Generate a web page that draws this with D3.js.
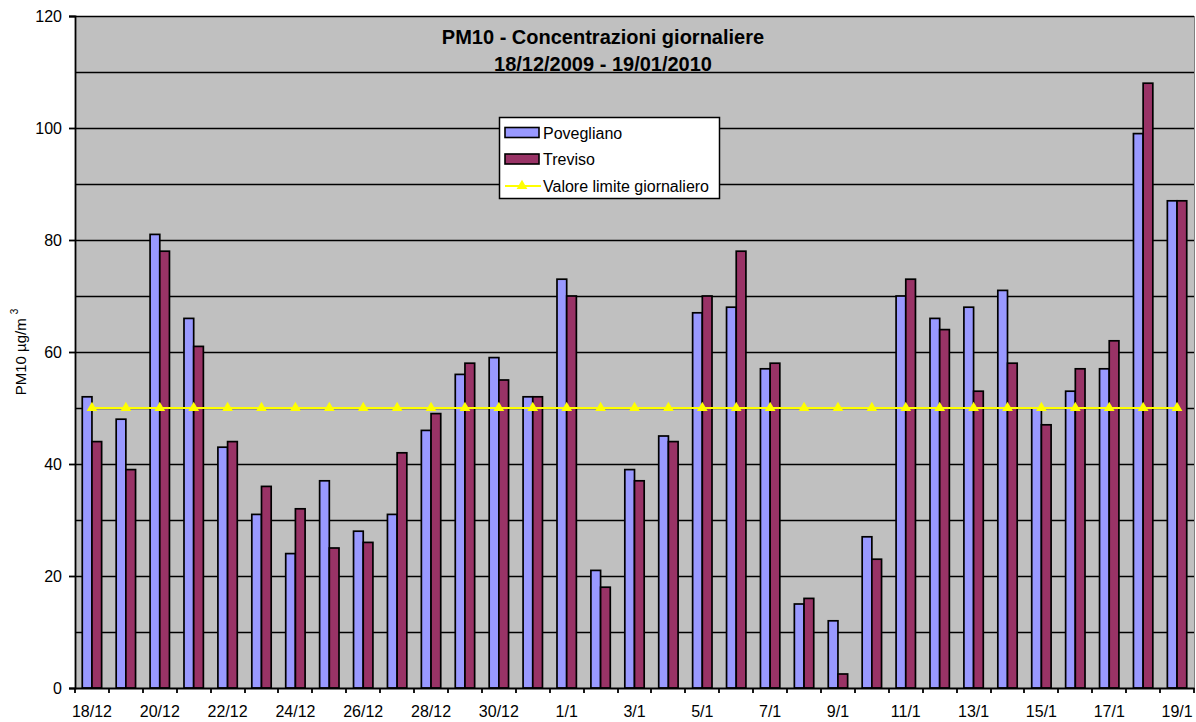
<!DOCTYPE html>
<html><head><meta charset="utf-8">
<script src="https://cdn.jsdelivr.net/npm/d3@7"></script>
<style>
html,body{margin:0;padding:0;background:#fff;}
svg{display:block;font-family:"Liberation Sans",Arial,sans-serif;}
</style></head>
<body><svg id="c" width="1196" height="722"></svg>
<script>
const categories = ["18/12","19/12","20/12","21/12","22/12","23/12","24/12","25/12","26/12","27/12","28/12","29/12","30/12","31/12","1/1","2/1","3/1","4/1","5/1","6/1","7/1","8/1","9/1","10/1","11/1","12/1","13/1","14/1","15/1","16/1","17/1","18/1","19/1"];
const povegliano = [52,48,81,66,43,31,24,37,28,31,46,56,59,52,73,21,39,45,67,68,57,15,12,27,70,66,68,71,50,53,57,99,87];
const treviso    = [44,39,78,61,44,36,32,25,26,42,49,58,55,52,70,18,37,44,70,78,58,16,2.5,23,73,64,53,58,47,57,62,108,87];
const limite     = categories.map(() => 50);
const seriesNames = ["Povegliano","Treviso","Valore limite giornaliero"];
const yTicks = [0,20,40,60,80,100,120];
const yGrid = [10,20,30,40,50,60,70,80,90,100,110,120];
const title1 = "PM10 - Concentrazioni giornaliere";
const title2 = "18/12/2009 - 19/01/2010";

const FONT = "Liberation Sans, Arial, sans-serif";
const svg = d3.select("#c");
const L = 75, R = 1194, T = 16, B = 688;
const x0 = d3.scaleBand().domain(categories).range([L, R]).padding(0);
const x1 = d3.scaleBand().domain(["P","T"]).range([0, x0.bandwidth()]).paddingInner(0).paddingOuter(0.75);
const y = d3.scaleLinear().domain([0,120]).range([B, T]);

// plot background
svg.append("rect").attr("x", L).attr("y", T).attr("width", R - L).attr("height", B - T).attr("fill", "#C0C0C0");
svg.append("line").attr("x1", L).attr("x2", R).attr("y1", T + 0.5).attr("y2", T + 0.5).attr("stroke", "#808080");
svg.append("line").attr("x1", R + 0.5).attr("x2", R + 0.5).attr("y1", T).attr("y2", B).attr("stroke", "#808080");

// gridlines
svg.append("g").selectAll("line").data(yGrid).join("line")
  .attr("x1", L).attr("x2", R)
  .attr("y1", d => Math.round(y(d)) + 0.5).attr("y2", d => Math.round(y(d)) + 0.5)
  .attr("stroke", "#000").attr("stroke-width", 1.3);

// title
svg.append("text").attr("x", 603).attr("y", 44).attr("text-anchor", "middle")
  .attr("font-size", 20).attr("font-weight", "bold").attr("fill", "#000").text(title1);
svg.append("text").attr("x", 603).attr("y", 71).attr("text-anchor", "middle")
  .attr("font-size", 20).attr("font-weight", "bold").attr("fill", "#000").text(title2);

// bars
const colors = {P: "#9999FF", T: "#993366"};
const g = svg.append("g");
categories.forEach((c, i) => {
  [["P", povegliano[i]], ["T", treviso[i]]].forEach(([k, v]) => {
    g.append("rect")
      .attr("x", x0(c) + x1(k)).attr("y", y(v))
      .attr("width", x1.bandwidth()).attr("height", y(0) - y(v))
      .attr("fill", colors[k]).attr("stroke", "#000").attr("stroke-width", 1.7);
  });
});

// limit line
const lx = c => x0(c) + x0.bandwidth() / 2;
svg.append("path")
  .attr("d", d3.line().x((d, i) => lx(categories[i])).y(d => y(d))(limite))
  .attr("fill", "none").attr("stroke", "#FFFF00").attr("stroke-width", 2);
const tri = d3.symbol().type(d3.symbolTriangle).size(50);
svg.append("g").selectAll("path").data(limite).join("path")
  .attr("d", tri).attr("transform", (d, i) => `translate(${lx(categories[i])},${y(d)})`)
  .attr("fill", "#FFFF00");

// y axis
const yAxis = svg.append("g").attr("transform", `translate(${L},0)`)
  .call(d3.axisLeft(y).tickValues(yTicks).tickSize(6).tickPadding(7).tickFormat(d3.format("d")));
yAxis.select(".domain").attr("stroke", "#000").attr("stroke-width", 1.8);
yAxis.selectAll(".tick line").attr("stroke", "#000").attr("stroke-width", 1.8);
yAxis.selectAll("text").attr("font-size", 16).attr("fill", "#000").attr("font-family", FONT);

// x axis
const xAxis = svg.append("g").attr("transform", `translate(0,${B})`)
  .call(d3.axisBottom(x0).tickValues(categories.filter((d, i) => i % 2 === 0)).tickSize(0).tickPadding(18));
xAxis.select(".domain").attr("stroke", "#000").attr("stroke-width", 1.8);
xAxis.selectAll("text").attr("font-size", 16).attr("fill", "#000").attr("font-family", FONT);
const bounds = categories.map(c => x0(c)).concat([R]);
svg.append("g").selectAll("line").data(bounds).join("line")
  .attr("x1", d => Math.round(d)).attr("x2", d => Math.round(d))
  .attr("y1", B).attr("y2", B + 5).attr("stroke", "#000").attr("stroke-width", 1.8);

// y label
const yl = svg.append("text").attr("transform", "translate(26,352) rotate(-90)")
  .attr("text-anchor", "middle").attr("font-size", 15).attr("fill", "#000");
yl.append("tspan").text("PM10 µg/m ");
yl.append("tspan").attr("font-size", 10).attr("dy", -8).text("3");

// legend
const lg = svg.append("g");
lg.append("rect").attr("x", 499.5).attr("y", 117.5).attr("width", 220).attr("height", 81)
  .attr("fill", "#fff").attr("stroke", "#000").attr("stroke-width", 1.5);
const rows = [132.5, 159, 186];
["P", "T"].forEach((k, i) => {
  lg.append("rect").attr("x", 505).attr("y", rows[i] - 5).attr("width", 34).attr("height", 10)
    .attr("fill", colors[k]).attr("stroke", "#000").attr("stroke-width", 1.6);
});
lg.append("line").attr("x1", 505).attr("x2", 541).attr("y1", rows[2]).attr("y2", rows[2])
  .attr("stroke", "#FFFF00").attr("stroke-width", 2);
lg.append("path").attr("d", tri).attr("transform", `translate(522,${rows[2]})`).attr("fill", "#FFFF00");
seriesNames.forEach((n, i) => {
  lg.append("text").attr("x", 543).attr("y", rows[i] + 6).attr("font-size", 16).attr("fill", "#000")
    .attr("font-family", FONT).text(n);
});
</script></body></html>
